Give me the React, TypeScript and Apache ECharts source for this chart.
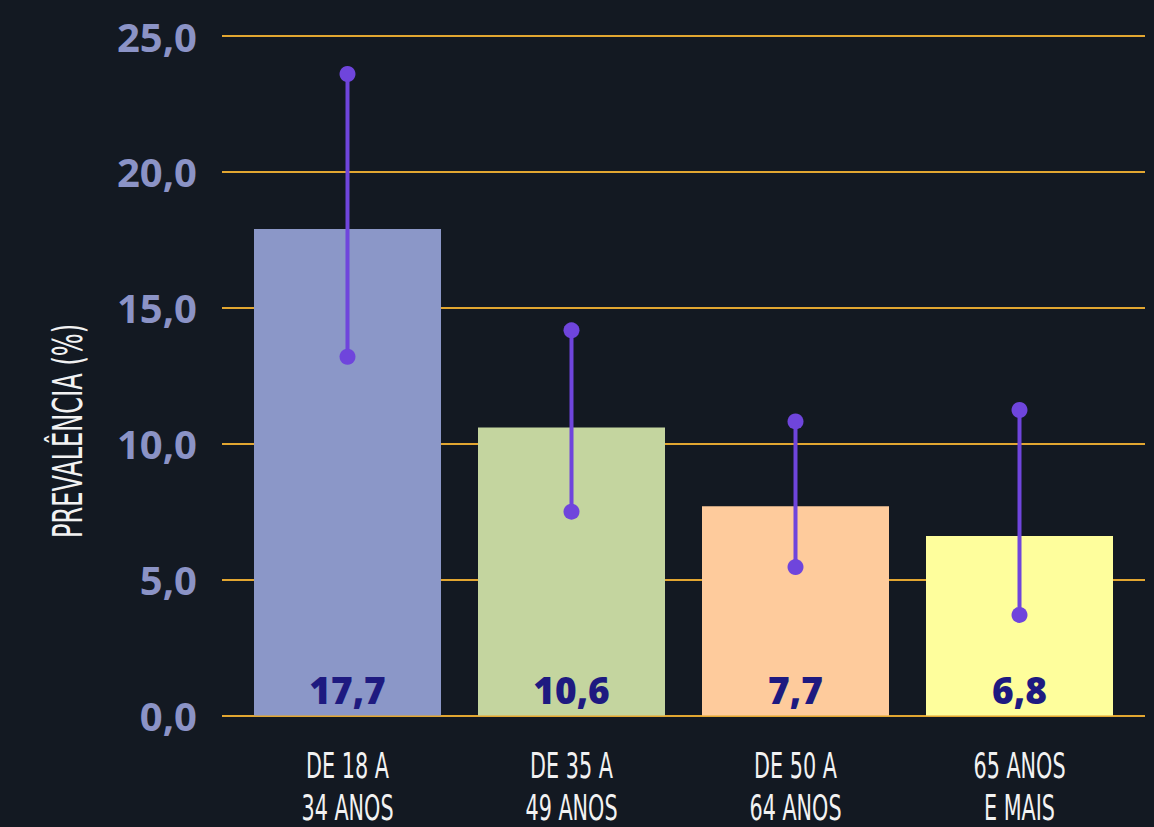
import React, { useEffect, useRef } from "react";
import * as echarts from "echarts";

const categories = ["DE 18 A\n34 ANOS", "DE 35 A\n49 ANOS", "DE 50 A\n64 ANOS", "65 ANOS\nE MAIS"];
const barValues = [17.9, 10.6, 7.7, 6.6];
const barLabels = ["17,7", "10,6", "7,7", "6,8"];
const lowerValues = [13.2, 7.5, 5.46, 3.7];
const upperValues = [23.6, 14.17, 10.82, 11.24];
const barColors = ["#8b97c8", "#c4d59f", "#fecb9c", "#fefe9c"];
const yTicks = [0, 5, 10, 15, 20, 25];
const yTitle = "PREVALÊNCIA (%)";

const BG = "#131922";
const NARROW = '"Liberation Sans Narrow", "DejaVu Sans Condensed", sans-serif';

export default function App() {
  const ref = useRef<HTMLDivElement>(null);
  useEffect(() => {
    document.body.style.margin = "0";
    document.body.style.background = BG;
    const chart = echarts.init(ref.current!, null, { renderer: "svg" });
    const yMin = yTicks[0];
    const yMax = yTicks[yTicks.length - 1];
    const option: any = {
      animation: false,
      backgroundColor: BG,
      grid: [
        { left: 222, right: 9, top: 36, bottom: 111.5 },
        { left: 235.5, right: 22.5, top: 36, bottom: 111.5 },
      ],
      xAxis: [
        { type: "category", gridIndex: 0, data: categories, show: false },
        {
          type: "category",
          gridIndex: 1,
          data: categories,
          axisLine: { show: false },
          axisTick: { show: false },
          axisLabel: { show: false },
        },
      ],
      yAxis: [
        {
          type: "value",
          gridIndex: 0,
          min: yMin,
          max: yMax,
          interval: 5,
          axisLine: { show: false },
          axisTick: { show: false },
          splitLine: { show: true, lineStyle: { color: "#e2a631", width: 2 } },
          axisLabel: {
            margin: 25,
            color: "#8b93c6",
            fontFamily: '"Open Sans", sans-serif',
            fontWeight: 700,
            fontSize: 40,
            formatter: (v: number) => v.toFixed(1).replace(".", ","),
          },
        },
        { type: "value", gridIndex: 1, min: yMin, max: yMax, interval: 5, show: false },
      ],
      series: [
        {
          type: "bar",
          xAxisIndex: 1,
          yAxisIndex: 1,
          barWidth: 187,
          z: 3,
          data: barValues.map((v, i) => ({ value: v, itemStyle: { color: barColors[i] } })),
          label: {
            show: true,
            position: "insideBottom",
            distance: 8,
            formatter: (p: any) => barLabels[p.dataIndex],
            color: "#1e1a80",
            fontFamily: '"Open Sans", sans-serif',
            fontWeight: 800,
            fontSize: 37,
          },
        },
        {
          type: "custom",
          xAxisIndex: 1,
          yAxisIndex: 1,
          z: 5,
          data: lowerValues.map((lo, i) => [i, lo, upperValues[i]]),
          renderItem: (params: any, api: any) => {
            const lo = api.coord([api.value(0), api.value(1)]);
            const hi = api.coord([api.value(0), api.value(2)]);
            const color = "#6f45dc";
            return {
              type: "group",
              children: [
                {
                  type: "line",
                  shape: { x1: lo[0], y1: lo[1], x2: hi[0], y2: hi[1] },
                  style: { stroke: color, lineWidth: 4 },
                },
                { type: "circle", shape: { cx: lo[0], cy: lo[1], r: 8 }, style: { fill: color } },
                { type: "circle", shape: { cx: hi[0], cy: hi[1], r: 8 }, style: { fill: color } },
              ],
            };
          },
        },
      ],
    };
    chart.setOption(option);

    const zeroY = chart.convertToPixel({ yAxisIndex: 1 }, 0) as number;
    const graphics: any[] = [];
    categories.forEach((c, i) => {
      const x = chart.convertToPixel({ xAxisIndex: 1 }, i) as number;
      c.split("\n").forEach((line, j) => {
        graphics.push({
          type: "text",
          x,
          y: zeroY + 50 + j * 42,
          scaleX: 0.64,
          style: {
            text: line,
            fill: "#f2f2f2",
            font: `36px ${NARROW}`,
            lineHeight: 30,
            align: "center",
            verticalAlign: "middle",
          },
        });
      });
    });
    graphics.push({
      type: "text",
      x: 68,
      y: 431,
      rotation: Math.PI / 2,
      scaleX: 0.67,
      style: {
        text: yTitle,
        fill: "#f2f2f2",
        font: `40px ${NARROW}`,
        align: "center",
        verticalAlign: "middle",
      },
    });
    chart.setOption({ graphic: graphics });

    return () => chart.dispose();
  }, []);
  return (
    <div
      ref={ref}
      style={{ position: "absolute", left: 0, top: 0, width: 1154, height: 827, background: BG }}
    />
  );
}
